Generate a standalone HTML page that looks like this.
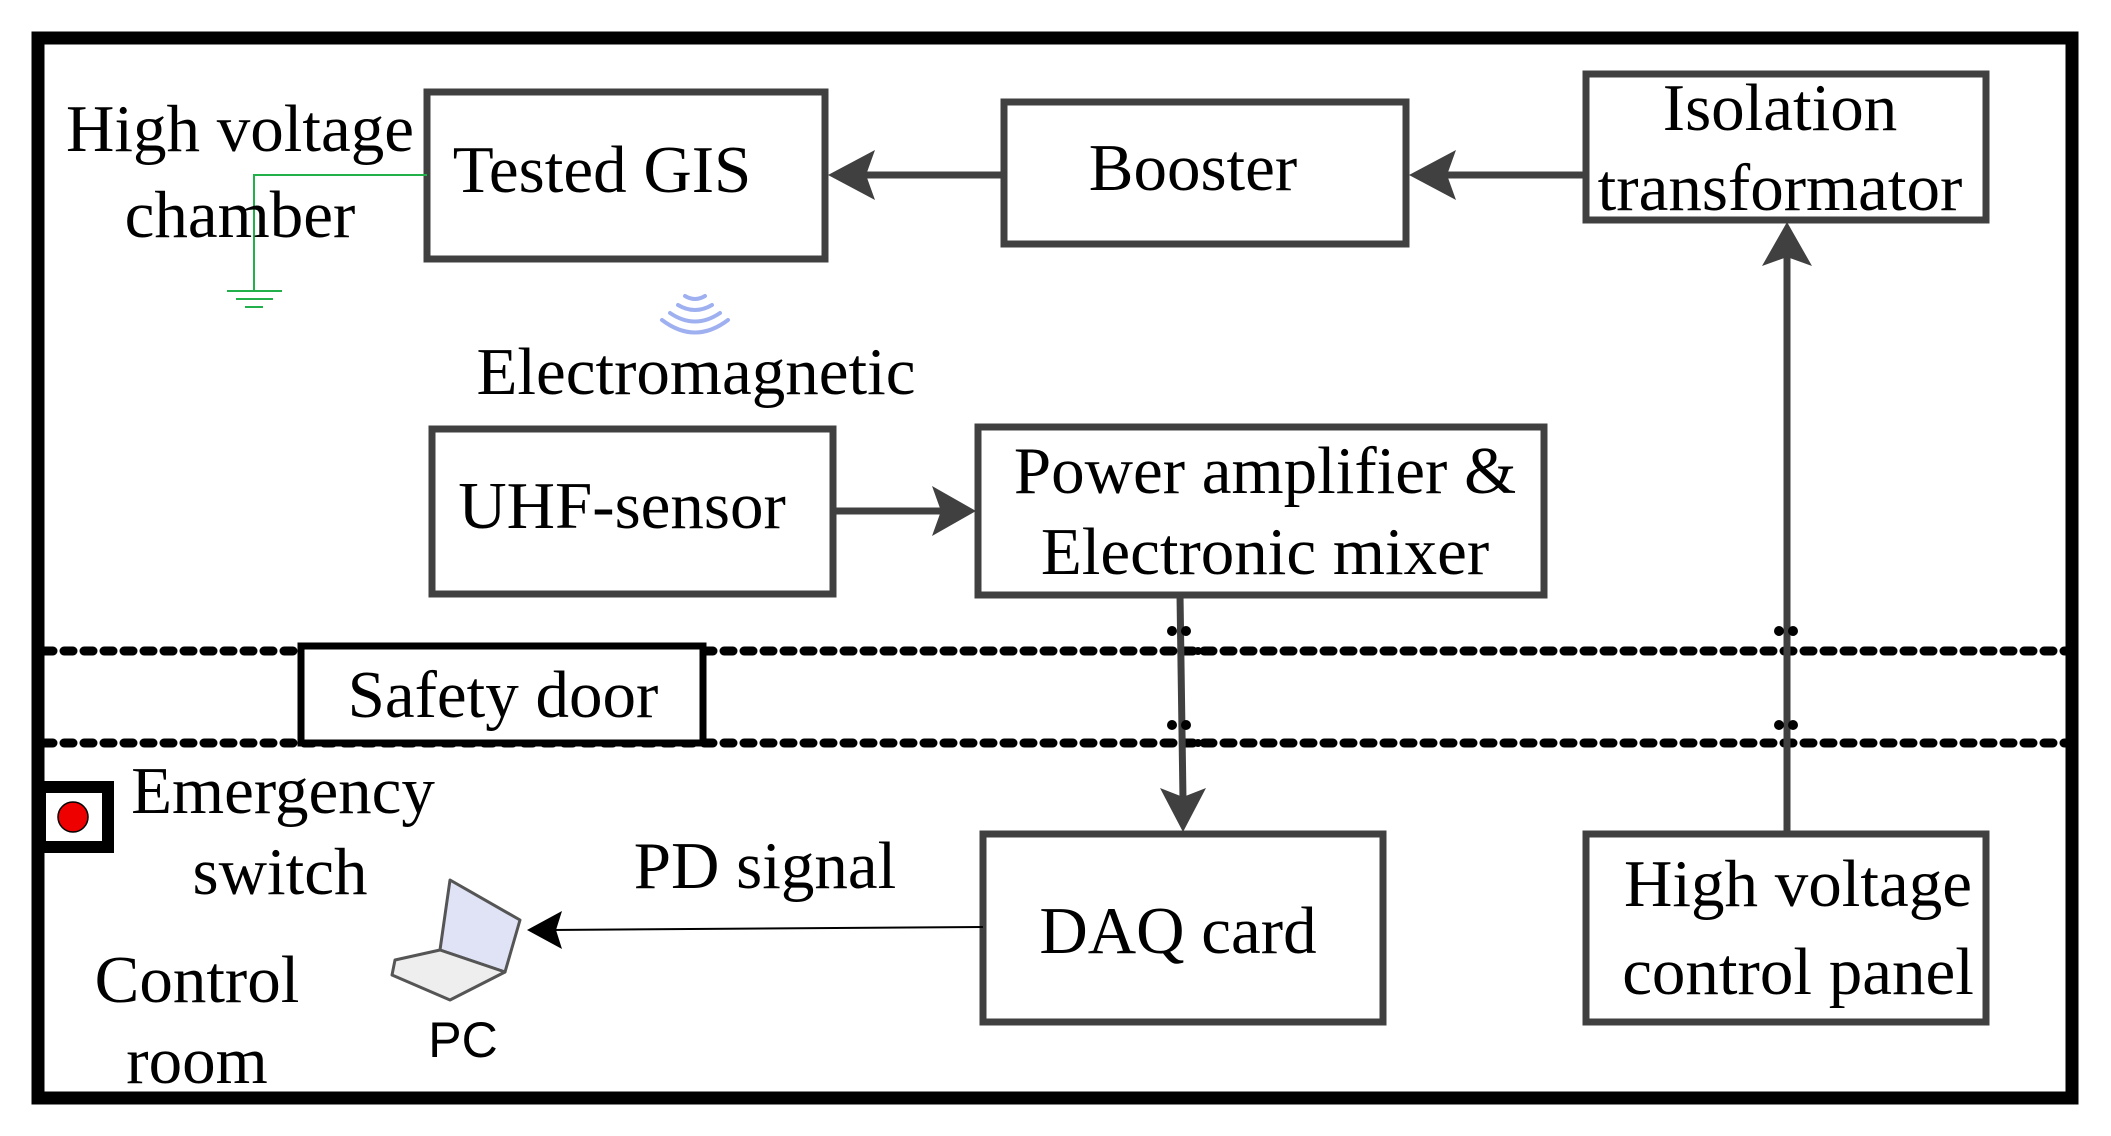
<!DOCTYPE html>
<html><head><meta charset="utf-8"><style>
body{margin:0;background:#fff}
svg{display:block}
text{font-family:"Liberation Serif",serif;font-size:67px;fill:#000;text-anchor:middle;dominant-baseline:central}
</style></head><body>
<svg width="2111" height="1136" viewBox="0 0 2111 1136" xmlns="http://www.w3.org/2000/svg">
<!-- outer border -->
<rect x="38" y="38" width="2034" height="1060" fill="none" stroke="#000" stroke-width="13"/>
<!-- dotted lines -->
<g stroke="#000" stroke-width="9" stroke-linecap="round" stroke-dasharray="9 11">
<line x1="44" y1="651" x2="2070" y2="651"/>
<line x1="44" y1="743" x2="2070" y2="743"/>
</g>
<!-- boxes -->
<g fill="#fff" stroke="#404040" stroke-width="7">
<rect x="427" y="92" width="398" height="167"/>
<rect x="1004" y="102" width="402" height="142"/>
<rect x="1586" y="74" width="400" height="146"/>
<rect x="432" y="429" width="401" height="165"/>
<rect x="978" y="427" width="566" height="168"/>
<rect x="983" y="834" width="400" height="188"/>
<rect x="1586" y="834" width="400" height="188"/>
</g>
<rect x="301" y="646" width="402" height="97" fill="#fff" stroke="#000" stroke-width="7"/>
<!-- arrows -->
<g stroke="#404040" stroke-width="7" fill="#404040">
<line x1="1004" y1="175" x2="860" y2="175"/>
<polygon points="828,175 875,150 866,175 875,200" stroke="none"/>
<line x1="1586" y1="175" x2="1440" y2="175"/>
<polygon points="1409,175 1456,150 1447,175 1456,200" stroke="none"/>
<line x1="1787" y1="834" x2="1787" y2="250"/>
<polygon points="1787,222 1762,266 1787,257 1812,266" stroke="none"/>
<line x1="833" y1="511" x2="945" y2="511"/>
<polygon points="976,511 932,486 941,511 932,536" stroke="none"/>
<line x1="1180" y1="595" x2="1183" y2="800"/>
<polygon points="1183,832 1160,788 1183,797 1206,788" stroke="none"/>
</g>
<line x1="983" y1="927" x2="550" y2="930" stroke="#000" stroke-width="2"/>
<polygon points="527,930 562,911 556,930 562,949" fill="#000"/>
<!-- break marks -->
<g fill="#000">
<circle cx="1172" cy="631" r="5"/><circle cx="1186" cy="631" r="5"/><circle cx="1198" cy="651" r="4"/>
<circle cx="1172" cy="725" r="5"/><circle cx="1186" cy="725" r="5"/><circle cx="1198" cy="743" r="4"/>
<circle cx="1779" cy="631" r="5"/><circle cx="1793" cy="631" r="5"/><circle cx="1808" cy="651" r="4"/>
<circle cx="1779" cy="725" r="5"/><circle cx="1793" cy="725" r="5"/><circle cx="1808" cy="743" r="4"/>
</g>
<!-- ground -->
<g stroke="#22b04a" stroke-width="2" fill="none">
<polyline points="427,175 254,175 254,291"/>
<line x1="227" y1="291" x2="282" y2="291"/>
<line x1="236" y1="299" x2="273" y2="299"/>
<line x1="245" y1="307" x2="263" y2="307"/>
</g>
<!-- waves -->
<g stroke="#9fb0f0" stroke-width="4" fill="none" stroke-linecap="round">
<path d="M685,296 Q695,302 705,296"/>
<path d="M678,305 Q695,315 712,305"/>
<path d="M670,313 Q695,330 720,313"/>
<path d="M662,320 Q695,345 728,320"/>
</g>
<!-- emergency switch -->
<rect x="40" y="787" width="68" height="60" fill="#fff" stroke="#000" stroke-width="12"/>
<circle cx="73" cy="817" r="15" fill="#e00" stroke="#000" stroke-width="1.5"/>
<!-- laptop -->
<g stroke="#555" stroke-width="3" stroke-linejoin="round">
<polygon points="450,880 520,920 505,972 440,950" fill="#dfe3f5"/>
<polygon points="440,950 505,972 450,1000 392,975 395,960" fill="#eee"/>
</g>
<!-- text -->
<text x="602" y="170">Tested GIS</text>
<text x="1193" y="168">Booster</text>
<text x="1780" y="108">Isolation</text>
<text x="1780" y="188">transformator</text>
<text x="622" y="506">UHF-sensor</text>
<text x="1265" y="471">Power amplifier &amp;</text>
<text x="1265" y="552">Electronic mixer</text>
<text x="503" y="695">Safety door</text>
<text x="1178" y="931">DAQ card</text>
<text x="1798" y="884">High voltage</text>
<text x="1798" y="972">control panel</text>
<text x="240" y="129">High voltage</text>
<text x="240" y="215">chamber</text>
<text x="696" y="372">Electromagnetic</text>
<text x="283" y="791">Emergency</text>
<text x="280" y="872">switch</text>
<text x="765" y="866">PD signal</text>
<text x="197" y="980">Control</text>
<text x="197" y="1061">room</text>
<text x="463" y="1040" style="font-family:'Liberation Sans',sans-serif;font-size:50px">PC</text>
</svg>
</body></html>
